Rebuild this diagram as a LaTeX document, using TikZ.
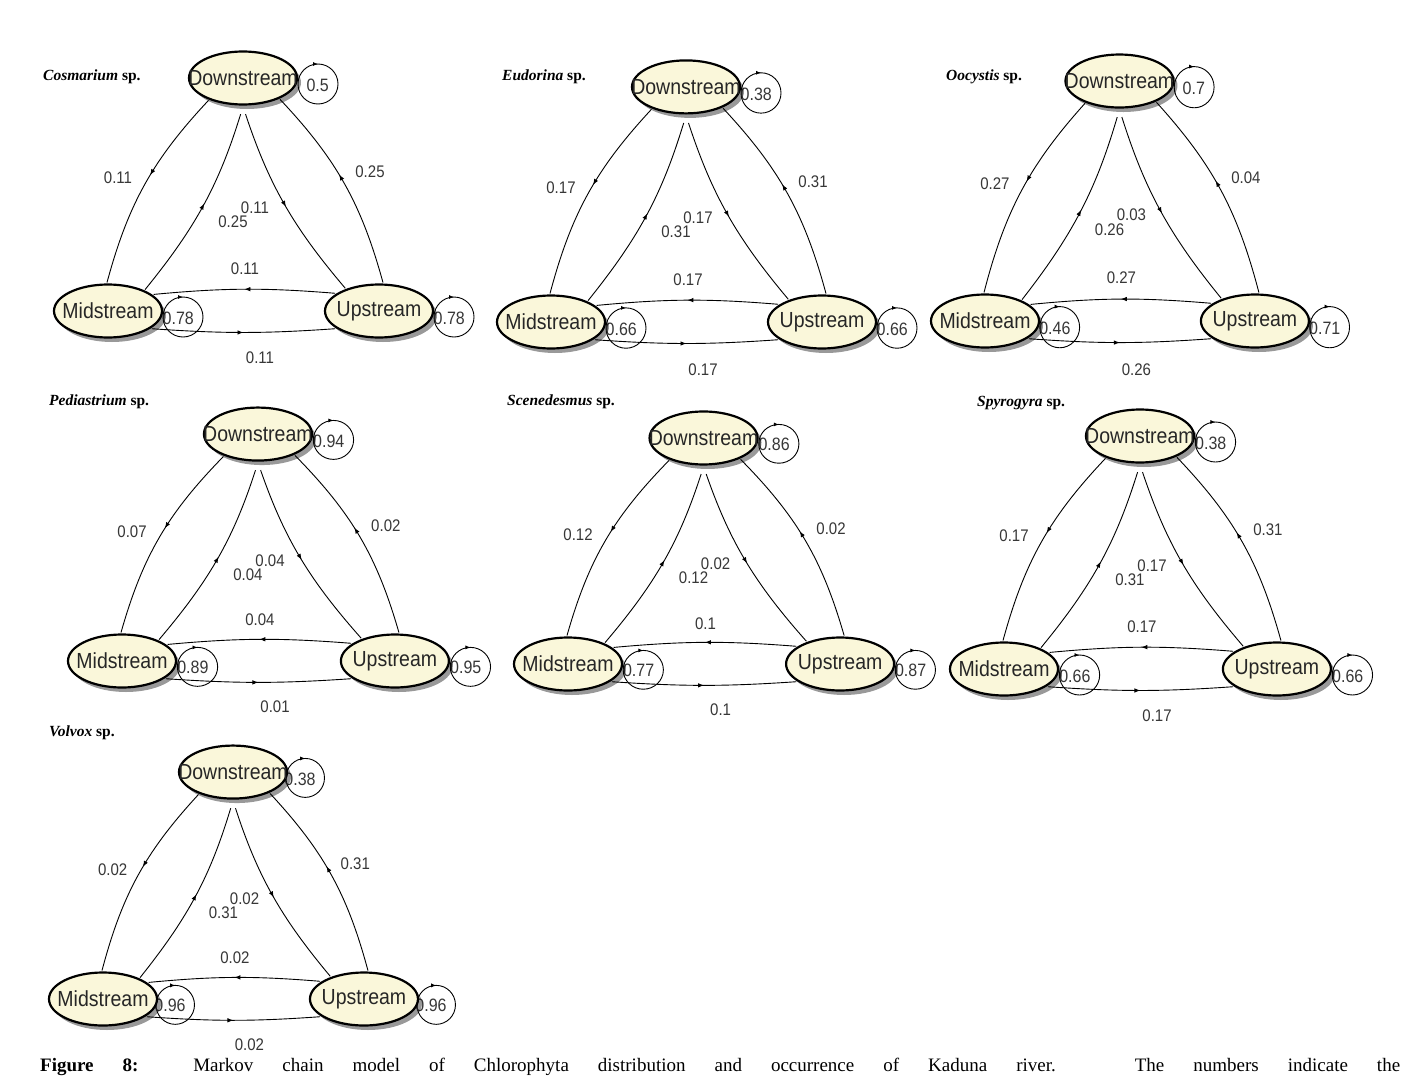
\documentclass[tikz,border=0pt]{standalone}
\usepackage{fontspec}
\usepackage{graphicx}
\setmainfont{Liberation Serif}
\newfontfamily\arialf{Liberation Sans}
\usetikzlibrary{shapes.geometric,shadows,decorations.markings,arrows.meta}
\definecolor{nodefill}{RGB}{250,247,218}
\definecolor{labgray}{RGB}{55,55,55}
\newcommand{\vsc}[1]{\scalebox{1}[1.12]{#1}}
\tikzset{
  stnode/.style={ellipse, draw=black, line width=2.2pt, fill=nodefill,
    minimum width=108pt, minimum height=53pt, inner sep=0pt, outer sep=2pt,
    font=\arialf\fontsize{19.5}{20}\selectfont, text=black!85,
    drop shadow={shadow xshift=4pt, shadow yshift=-4.5pt, fill=black, opacity=0.4}},
  elab/.style={font=\arialf\fontsize{15}{16}\selectfont, text=labgray, inner sep=0pt},
  llab/.style={font=\arialf\fontsize{16}{17}\selectfont, text=labgray, inner sep=0pt, anchor=east},
  loopline/.style={draw=black, line width=0.9pt,
    decoration={markings, mark=at position 0.75 with {\arrow{Latex[length=5pt,width=4pt]}}},
    postaction={decorate}},
  edgeline/.style={draw=black, line width=0.9pt,
    decoration={markings, mark=at position #1 with {\arrow{Latex[length=6pt,width=4.5pt]}}},
    postaction={decorate}},
  edgeline/.default=0.5,
  ttl/.style={font=\fontsize{15.5}{17}\selectfont, anchor=west, inner sep=0pt},
}
% #1 id, #2 DM, #3 MD, #4 DU, #5 UD, #6 UM, #7 MU ; loops from \lD \lM \lU
\newcommand{\pnl}[7]{%
  \draw[loopline] (210,-227) circle[radius=20];
  \draw[loopline] (75,6) circle[radius=20];
  \draw[loopline] (346,6) circle[radius=20];
  \node[llab] (dlt#1) at (221,-226) {\vsc{\lD}};
  \node[llab] (mlt#1) at (86,7) {\vsc{\lM}};
  \node[llab] (ult#1) at (357,7) {\vsc{\lU}};
  \node[stnode] (d#1) at (135,-233) {\makebox[0pt]{\vsc{Downstream}}};
  \node[stnode] (m#1) at (0,0) {\makebox[0pt]{\vsc{Midstream}}};
  \node[stnode] (u#1) at (271,0) {\makebox[0pt]{\vsc{Upstream}}};
  \draw[edgeline=0.45] (d#1.213) to[bend right=14] (m#1.92);
  \draw[edgeline=0.5, shorten >=8pt] (m#1.30) to[bend right=11] (d#1.270);
  \draw[edgeline=0.52, shorten <=8pt] (d#1.270) to[bend right=11] (u#1.146);
  \draw[edgeline=0.55] (u#1.82) to[bend right=14] (d#1.330);
  \draw[edgeline=0.5] (u#1.158) to[bend right=5] (m#1.20);
  \draw[edgeline=0.5] (m#1.338) to[bend right=4] (u#1.202);
  \node[elab] (ldm#1) at (10,-133) {\vsc{#2}};
  \node[elab] (lmd#1) at (125,-89) {\vsc{#3}};
  \node[elab] (ldu#1) at (147,-103) {\vsc{#4}};
  \node[elab] (lud#1) at (262,-139) {\vsc{#5}};
  \node[elab] (lum#1) at (137,-42) {\vsc{#6}};
  \node[elab] (lmu#1) at (152,47) {\vsc{#7}};
}
\begin{document}
\begin{tikzpicture}[x=1pt, y=-1pt]
\fill[white] (0,0) rectangle (1414,1076);
\useasboundingbox (0,0) rectangle (1414,1076);

\node[ttl] (t1) at (43,77) {\textbf{\textit{Cosmarium}} \textbf{sp.}};
\node[ttl] (t2) at (502,77) {\textbf{\textit{Eudorina}} \textbf{sp.}};
\node[ttl] (t3) at (946,77) {\textbf{\textit{Oocystis}} \textbf{sp.}};
\node[ttl] (t4) at (49,402) {\textbf{\textit{Pediastrium}} \textbf{sp.}};
\node[ttl] (t5) at (507,402) {\textbf{\textit{Scenedesmus}} \textbf{sp.}};
\node[ttl] (t6) at (977,403) {\textbf{\textit{Spyrogyra}} \textbf{sp.}};
\node[ttl] (t7) at (49,733) {\textbf{\textit{Volvox}} \textbf{sp.}};

\begin{scope}[shift={(108,311)}]
  \def\lD{0.5}\def\lM{0.78}\def\lU{0.78}
  \pnl{1}{0.11}{0.25}{0.11}{0.25}{0.11}{0.11}
\end{scope}
\begin{scope}[shift={(551,322)}, yscale=1.009]
  \def\lD{0.38}\def\lM{0.66}\def\lU{0.66}
  \pnl{2}{0.17}{0.31}{0.17}{0.31}{0.17}{0.17}
\end{scope}
\begin{scope}[shift={(985,321)}, xscale=0.996, yscale=1.03]
  \def\lD{0.7}\def\lM{0.46}\def\lU{0.71}
  \pnl{3}{0.27}{0.26}{0.03}{0.04}{0.27}{0.26}
\end{scope}
\begin{scope}[shift={(122,661)}, xscale=1.007, yscale=0.974]
  \def\lD{0.94}\def\lM{0.89}\def\lU{0.95}
  \pnl{4}{0.07}{0.04}{0.04}{0.02}{0.04}{0.01}
\end{scope}
\begin{scope}[shift={(568,664)}, xscale=1.004, yscale=0.97]
  \def\lD{0.86}\def\lM{0.77}\def\lU{0.87}
  \pnl{5}{0.12}{0.12}{0.02}{0.02}{0.1}{0.1}
\end{scope}
\begin{scope}[shift={(1004,669)}, xscale=1.007]
  \def\lD{0.38}\def\lM{0.66}\def\lU{0.66}
  \pnl{6}{0.17}{0.31}{0.17}{0.31}{0.17}{0.17}
\end{scope}
\begin{scope}[shift={(103,999)}, xscale=0.963, yscale=0.974]
  \def\lD{0.38}\def\lM{0.96}\def\lU{0.96}
  \pnl{7}{0.02}{0.31}{0.02}{0.31}{0.02}{0.02}
\end{scope}

\node[anchor=base west, inner sep=0pt, font=\fontsize{19}{22}\selectfont] (cap) at (40,1071)
  {\makebox[1360pt][s]{\textbf{Figure 8:} Markov chain model of Chlorophyta distribution and occurrence of Kaduna river. The numbers indicate the}};
\end{tikzpicture}
\end{document}
